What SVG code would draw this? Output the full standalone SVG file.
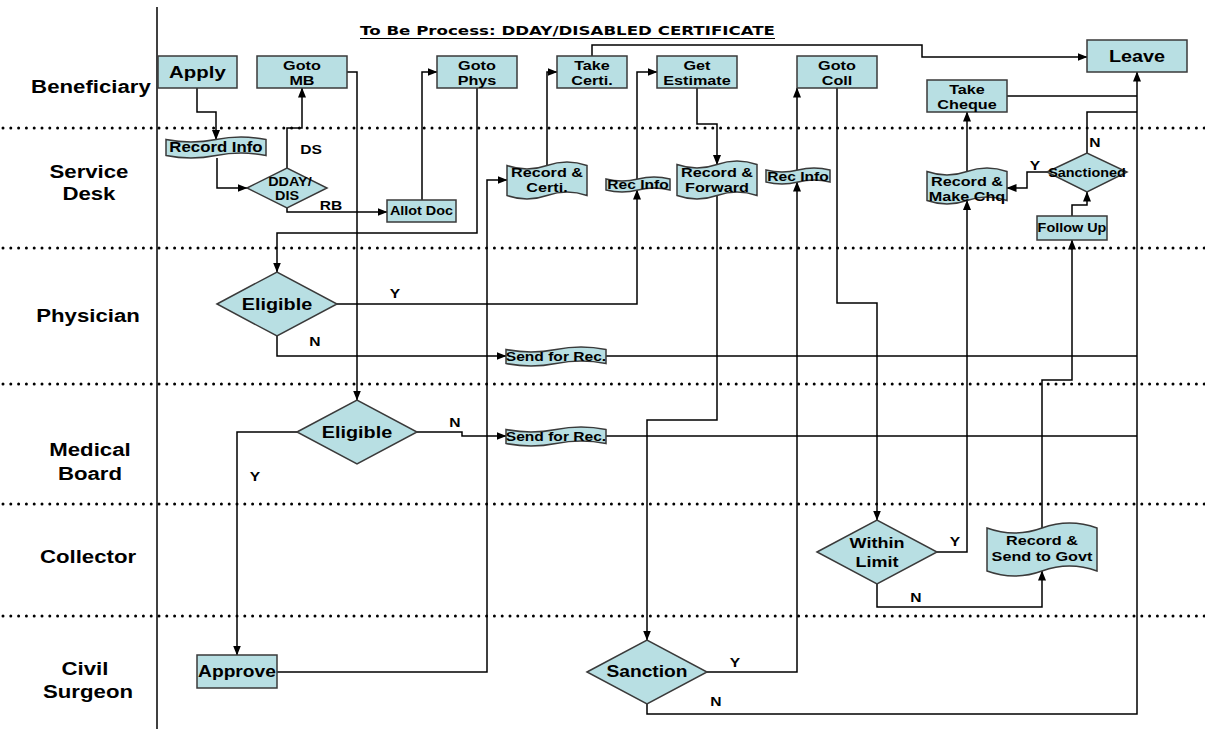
<svg xmlns="http://www.w3.org/2000/svg" width="1205" height="729" viewBox="0 0 1205 729">
  <defs>
    <marker id="ah" markerUnits="userSpaceOnUse" markerWidth="10" markerHeight="8" refX="9.5" refY="4" orient="auto">
      <path d="M0,0 L10,4 L0,8 Z" fill="#000"/>
    </marker>
    <style>
      .box { fill: #B8DFE3; stroke: #3a3a3a; stroke-width: 1.5; }
      .ln { fill: none; stroke: #000; stroke-width: 1.5; }
      .arr { marker-end: url(#ah); }
      .dot { stroke: #000; stroke-width: 3; stroke-dasharray: 0 7.8; stroke-linecap: round; }
      text { font-family: "Liberation Sans", Arial, sans-serif; font-weight: bold; fill: #000; text-anchor: middle;
             transform-box: fill-box; transform-origin: center; transform: scaleX(1.2); }
      .lane { font-size: 18.5px; }
      .lbl { font-size: 13px; }
      .s12 { font-size: 12px; }
      .s13 { font-size: 13px; }
      .s135 { font-size: 13.5px; }
      .s16 { font-size: 16px; }
      .title { font-family: "DejaVu Sans", "Liberation Sans", sans-serif; font-size: 13px; text-anchor: start; transform: none; }
    </style>
  </defs>

  <rect width="1205" height="729" fill="#fff"/>

  <!-- swimlane frame -->
  <g id="lanes">
    <line x1="157" y1="7" x2="157" y2="729" stroke="#000" stroke-width="1.5"/>
    <line class="dot" x1="3" y1="128" x2="1205" y2="128"/>
    <line class="dot" x1="3" y1="248" x2="1205" y2="248"/>
    <line class="dot" x1="3" y1="384" x2="1205" y2="384"/>
    <line class="dot" x1="3" y1="504" x2="1205" y2="504"/>
    <line class="dot" x1="3" y1="616" x2="1205" y2="616"/>
    <text class="lane" x="91" y="93">Beneficiary</text>
    <text class="lane" x="89" y="178">Service</text>
    <text class="lane" x="89" y="200">Desk</text>
    <text class="lane" x="88" y="322">Physician</text>
    <text class="lane" x="90" y="456">Medical</text>
    <text class="lane" x="90" y="480">Board</text>
    <text class="lane" x="88" y="563">Collector</text>
    <text class="lane" x="85" y="675">Civil</text>
    <text class="lane" x="88" y="698">Surgeon</text>
  </g>

  <g id="title">
    <text class="title" x="360" y="35" textLength="415" lengthAdjust="spacingAndGlyphs">To Be Process: DDAY/DISABLED CERTIFICATE</text>
    <line x1="360" y1="38.5" x2="775" y2="38.5" stroke="#000" stroke-width="1.2"/>
  </g>

  <!-- connectors -->
  <g id="connectors">
    <path class="ln arr" d="M197,88 V112 H216 V139.5"/>
    <path class="ln arr" d="M217,158 V188 H247"/>
    <path class="ln arr" d="M287,168 V128 H302 V88"/>
    <path class="ln arr" d="M287,208 V212 H387"/>
    <path class="ln arr" d="M422,200 V72 H437"/>
    <path class="ln arr" d="M347,72 H357 V400"/>
    <path class="ln arr" d="M477,88 V233 H277 V272"/>
    <path class="ln arr" d="M337,304 H637 V190"/>
    <path class="ln arr" d="M277,336 V356 H506"/>
    <path class="ln arr" d="M637,179 V72 H657"/>
    <path class="ln arr" d="M417,432 H462 V436 H506"/>
    <path class="ln arr" d="M297,432 H237 V655"/>
    <path class="ln arr" d="M277,672 H487 V180 H507"/>
    <path class="ln arr" d="M547,165.5 V72 H557"/>
    <path class="ln arr" d="M592,56 V45 H922 V57 H1087"/>
    <path class="ln arr" d="M697,88 V124 H717 V164.5"/>
    <path class="ln arr" d="M717,195.5 V420 H647 V640"/>
    <path class="ln arr" d="M707,672 H797 V182"/>
    <path class="ln arr" d="M797,170 V88"/>
    <path class="ln arr" d="M837,88 V303 H877 V520"/>
    <path class="ln arr" d="M937,552 H967 V200.5"/>
    <path class="ln arr" d="M877,584 V607 H1042 V571"/>
    <path class="ln arr" d="M1042,528 V380 H1072 V240"/>
    <path class="ln arr" d="M1072,216 V205 H1087 V192"/>
    <path class="ln arr" d="M1047,172 H1027 V188 H1007"/>
    <path class="ln" d="M1087,153 V112 H1137"/>
    <path class="ln arr" d="M967,171.5 V112"/>
    <path class="ln" d="M1007,96 H1137"/>
    <path class="ln arr" d="M647,704 V714 H1137 V72"/>
    <path class="ln" d="M606,356 H1137"/>
    <path class="ln" d="M606,436 H1137"/>
  </g>

  <!-- connector labels -->
  <g id="labels">
    <text class="lbl" x="311" y="154">DS</text>
    <text class="lbl" x="331" y="210">RB</text>
    <text class="lbl" x="395" y="298">Y</text>
    <text class="lbl" x="315" y="346">N</text>
    <text class="lbl" x="455" y="427">N</text>
    <text class="lbl" x="255" y="481">Y</text>
    <text class="lbl" x="735" y="667">Y</text>
    <text class="lbl" x="716" y="706">N</text>
    <text class="lbl" x="955" y="546">Y</text>
    <text class="lbl" x="916" y="602">N</text>
    <text class="lbl" x="1035" y="170">Y</text>
    <text class="lbl" x="1095" y="147">N</text>
  </g>

  <!-- Beneficiary lane -->
  <g id="apply">
    <rect class="box" x="158" y="56" width="79" height="32"/>
    <text x="197.5" y="78" style="font-size:17px">Apply</text>
  </g>
  <g id="goto-mb">
    <rect class="box" x="257" y="56" width="90" height="32"/>
    <text class="s135" x="302" y="70">Goto</text>
    <text class="s135" x="302" y="85">MB</text>
  </g>
  <g id="goto-phys">
    <rect class="box" x="437" y="56" width="80" height="32"/>
    <text class="s135" x="477" y="70">Goto</text>
    <text class="s135" x="477" y="85">Phys</text>
  </g>
  <g id="take-certi">
    <rect class="box" x="557" y="56" width="70" height="32"/>
    <text class="s135" x="592" y="70">Take</text>
    <text class="s135" x="592" y="85">Certi.</text>
  </g>
  <g id="get-estimate">
    <rect class="box" x="657" y="56" width="80" height="32"/>
    <text class="s135" x="697" y="70">Get</text>
    <text class="s135" x="697" y="85">Estimate</text>
  </g>
  <g id="goto-coll">
    <rect class="box" x="797" y="56" width="80" height="32"/>
    <text class="s135" x="837" y="70">Goto</text>
    <text class="s135" x="837" y="85">Coll</text>
  </g>
  <g id="take-cheque">
    <rect class="box" x="927" y="80" width="80" height="32"/>
    <text class="s135" x="967" y="94">Take</text>
    <text class="s135" x="967" y="109">Cheque</text>
  </g>
  <g id="leave">
    <rect class="box" x="1087" y="40" width="100" height="32"/>
    <text x="1137" y="62" style="font-size:16.5px">Leave</text>
  </g>

  <!-- Service Desk lane -->
  <g id="record-info">
    <path class="box" d="M166,139.5 Q191,144.5 216,139.5 Q241,134.5 266,139.5 L266,155.5 Q241,150.5 216,155.5 Q191,160.5 166,155.5 Z"/>
    <text x="216" y="152.5" style="font-size:14px">Record Info</text>
  </g>
  <g id="dday-dis">
    <polygon class="box" points="247,188 287,168 327,188 287,208"/>
    <text class="s12" x="290" y="186">DDAY/</text>
    <text class="s12" x="287" y="200">DIS</text>
  </g>
  <g id="allot-doc">
    <rect class="box" x="387" y="200" width="69" height="22"/>
    <text class="s12" x="421.5" y="215.5">Allot Doc</text>
  </g>
  <g id="record-certi">
    <path class="box" d="M507,165.5 Q527,172.5 547,165.5 Q567,158.5 587,165.5 L587,195.5 Q567,188.5 547,195.5 Q527,202.5 507,195.5 Z"/>
    <text class="s135" x="547" y="177">Record &amp;</text>
    <text class="s135" x="547" y="192">Certi.</text>
  </g>
  <g id="rec-info-1">
    <path class="box" d="M606,179 Q622,183 638,179 Q654,175 670,179 L670,190 Q654,186 638,190 Q622,194 606,190 Z"/>
    <text class="s13" x="638" y="189.5">Rec Info</text>
  </g>
  <g id="record-forward">
    <path class="box" d="M677,164.5 Q697,171.5 717,164.5 Q737,157.5 757,164.5 L757,195.5 Q737,188.5 717,195.5 Q697,202.5 677,195.5 Z"/>
    <text class="s135" x="717" y="177">Record &amp;</text>
    <text class="s135" x="717" y="192">Forward</text>
  </g>
  <g id="rec-info-2">
    <path class="box" d="M766,170 Q782,174 798,170 Q814,166 830,170 L830,182 Q814,178 798,182 Q782,186 766,182 Z"/>
    <text class="s13" x="798" y="181.5">Rec Info</text>
  </g>
  <g id="record-make-chq">
    <path class="box" d="M927,171.5 Q947,178.5 967,171.5 Q987,164.5 1007,171.5 L1007,200.5 Q987,193.5 967,200.5 Q947,207.5 927,200.5 Z"/>
    <text class="s135" x="967" y="186">Record &amp;</text>
    <text class="s135" x="967" y="201">Make Chq</text>
  </g>
  <g id="sanctioned">
    <polygon class="box" points="1047,172 1087,153 1127,172 1087,192"/>
    <text class="s12" x="1087" y="177">Sanctioned</text>
  </g>
  <g id="follow-up">
    <rect class="box" x="1037" y="216" width="70" height="24"/>
    <text class="s12" x="1072" y="232.5">Follow Up</text>
  </g>

  <!-- Physician lane -->
  <g id="eligible-physician">
    <polygon class="box" points="217,304 277,272 337,304 277,336"/>
    <text x="277" y="310" style="font-size:16.5px">Eligible</text>
  </g>
  <g id="send-for-rec-1">
    <path class="box" d="M506,349.5 Q531,354.5 556,349.5 Q581,344.5 606,349.5 L606,363.5 Q581,358.5 556,363.5 Q531,368.5 506,363.5 Z"/>
    <text class="s13" x="556" y="361">Send for Rec.</text>
  </g>

  <!-- Medical Board lane -->
  <g id="eligible-board">
    <polygon class="box" points="297,432 357,400 417,432 357,464"/>
    <text x="357" y="438" style="font-size:16.5px">Eligible</text>
  </g>
  <g id="send-for-rec-2">
    <path class="box" d="M506,429.5 Q531,434.5 556,429.5 Q581,424.5 606,429.5 L606,443.5 Q581,438.5 556,443.5 Q531,448.5 506,443.5 Z"/>
    <text class="s13" x="556" y="441">Send for Rec.</text>
  </g>

  <!-- Collector lane -->
  <g id="within-limit">
    <polygon class="box" points="817,552 877,520 937,552 877,584"/>
    <text x="877" y="548" style="font-size:15px">Within</text>
    <text x="877" y="567" style="font-size:15px">Limit</text>
  </g>
  <g id="record-send-govt">
    <path class="box" d="M987,528 Q1014.5,538 1042,528 Q1069.5,518 1097,528 L1097,571 Q1069.5,561 1042,571 Q1014.5,581 987,571 Z"/>
    <text class="s135" x="1042" y="545">Record &amp;</text>
    <text class="s135" x="1042" y="561">Send to Govt</text>
  </g>

  <!-- Civil Surgeon lane -->
  <g id="approve">
    <rect class="box" x="197" y="655" width="80" height="33"/>
    <text class="s16" x="237" y="677.5">Approve</text>
  </g>
  <g id="sanction">
    <polygon class="box" points="587,672 647,640 707,672 647,704"/>
    <text class="s16" x="647" y="677.5">Sanction</text>
  </g>
</svg>
